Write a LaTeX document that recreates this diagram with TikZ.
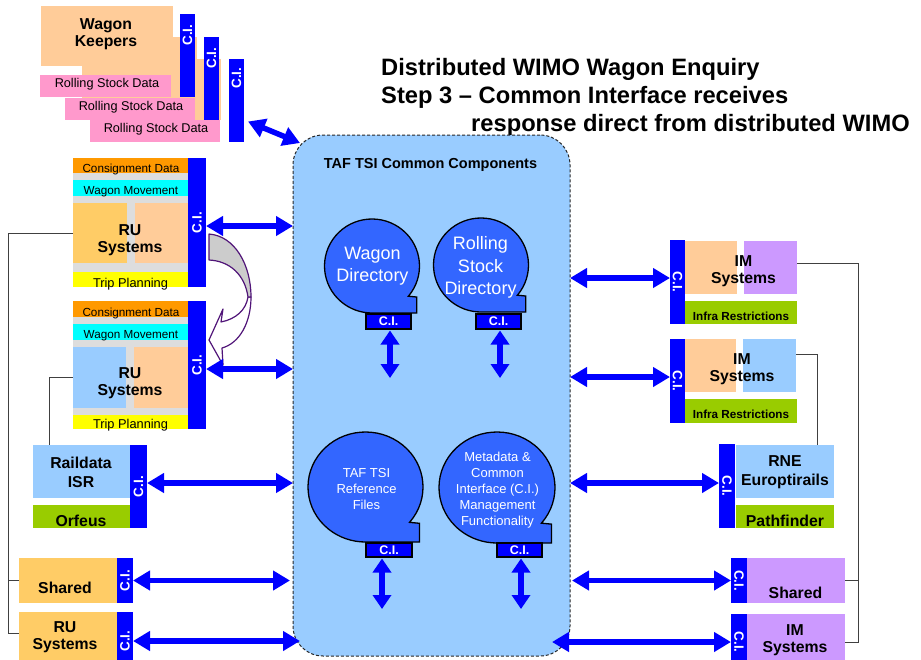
\documentclass[tikz,border=0pt]{standalone}
\usepackage{fontspec}
\setmainfont{Liberation Sans}
\usepackage{graphicx}
\usetikzlibrary{arrows.meta}

\definecolor{ciblue}{RGB}{0,0,255}
\definecolor{tafblue}{RGB}{153,204,255}
\definecolor{bubblue}{RGB}{51,102,255}
\definecolor{peach}{RGB}{255,204,153}
\definecolor{gold}{RGB}{255,204,102}
\definecolor{consorange}{RGB}{255,153,0}
\definecolor{wmcyan}{RGB}{0,255,255}
\definecolor{tripyellow}{RGB}{255,255,0}
\definecolor{rspink}{RGB}{255,153,204}
\definecolor{infragreen}{RGB}{153,204,0}
\definecolor{imviolet}{RGB}{204,153,255}
\definecolor{rugray}{RGB}{221,221,221}
\definecolor{arcline}{RGB}{80,20,120}

\newcommand{\fz}[2]{\fontsize{#1}{#2}\selectfont}

% 目录气泡：圆 + 右下角方尾
\newcommand{\dirbubble}[4]{%
  \draw[bubble] ({#1+#3*cos(40)},{#2+#4*sin(40)})
    arc[start angle=40, end angle=-270, x radius=#3, y radius=#4]
    -- ({#1+0.94*#3},{#2+#4}) -- ({#1+0.94*#3},{#2+0.66*#4}) -- cycle;}

\tikzset{
  box/.style={anchor=north west, inner sep=0pt, outer sep=0pt},
  cibar/.style={box, fill=ciblue, text=white, font=\fz{13.5}{14}\bfseries},
  citxt/.style={inner sep=0pt, text=white, font=\fz{13.5}{14}\bfseries},
  cibox/.style={box, draw=black, line width=1.3pt, fill=ciblue, text=white,
    minimum width=45pt, minimum height=15pt, font=\fz{12.5}{13}\bfseries},
  taf/.style={box, minimum width=277pt, minimum height=521pt, rounded corners=30pt,
    fill=tafblue, draw=black!85, line width=1pt, dash pattern=on 3pt off 2pt},
  bubble/.style={draw=black, line width=1.3pt, fill=bubblue},
  ttl/.style={anchor=base west, inner sep=0pt, font=\fz{23.7}{28}\bfseries},
  hd/.style={inner sep=0pt, font=\fz{14.5}{17}\bfseries},
  big/.style={inner sep=0pt, align=center, font=\fz{15.8}{17}\bfseries},
  sml/.style={inner sep=0pt, font=\fz{11.7}{13}},
  rsd/.style={inner sep=0pt, font=\fz{12.7}{14}},
  trip/.style={inner sep=0pt, font=\fz{12.8}{14}},
  infra/.style={inner sep=0pt, font=\fz{11.7}{13}\bfseries},
  bubbig/.style={inner sep=0pt, align=center, text=white, font=\fz{18}{22.5}},
  bubsml/.style={inner sep=0pt, align=center, text=white, font=\fz{13}{16}},
  dbl/.style={draw=ciblue, line width=5.5pt,
    {Triangle[length=17pt,width=19pt]}-{Triangle[length=17pt,width=19pt]}},
  vdbl/.style={draw=ciblue, line width=6.5pt, shorten <=1.5pt,
    {Triangle[length=14pt,width=18pt]}-{Triangle[length=14pt,width=18pt]}},
  link/.style={draw=black!75, line width=0.9pt},
  curv/.style={draw=arcline, line width=1.2pt, line join=round},
}

\begin{document}
\begin{tikzpicture}[x=1pt, y=-1pt]
  \useasboundingbox (0,0) rectangle (921,659);

  % 标题
  \node[ttl] (t1) at (381,75) {Distributed WIMO Wagon Enquiry};
  \node[ttl] (t2) at (381,103) {Step 3 – Common Interface receives};
  \node[ttl] (t3) at (471,131) {response direct from distributed WIMO};

  % 左上 Wagon Keepers（叠放三层）
  \fill[peach] (110,59) rectangle (221,120);
  \fill[peach] (82,37) rectangle (197,98);
  \node[box, fill=peach, minimum width=132pt, minimum height=60pt] (wk) at (41,6) {};
  \node[big] (wkt) at (106,34) {Wagon\\Keepers};
  \node[box, fill=rspink, minimum width=131pt, minimum height=22pt] (rs1) at (40,75) {};
  \node[box, fill=rspink, minimum width=130pt, minimum height=22pt] (rs2) at (65,98) {};
  \node[box, fill=rspink, minimum width=130pt, minimum height=22pt] (rs3) at (90,120) {};
  \node[rsd] (rs1t) at (107,84) {Rolling Stock Data};
  \node[rsd] (rs2t) at (131,107) {Rolling Stock Data};
  \node[rsd] (rs3t) at (156,129) {Rolling Stock Data};
  \node[cibar, minimum width=15pt, minimum height=83pt] (ciwk1) at (180,14) {};
  \node[cibar, minimum width=15pt, minimum height=83pt] (ciwk2) at (204,37) {};
  \node[cibar, minimum width=15pt, minimum height=83pt] (ciwk3) at (229,59) {};
  \node[citxt] (ciwk1t) at (187.5,35) {\rotatebox{90}{C.I.}};
  \node[citxt] (ciwk2t) at (211.5,58) {\rotatebox{90}{C.I.}};
  \node[citxt] (ciwk3t) at (236.5,78) {\rotatebox{90}{C.I.}};

  % 中间 TAF TSI 公共组件
  \node[taf] (taf) at (293,135) {};
  \node[hd] (tafhd) at (430.5,164.5) {TAF TSI Common Components};

  \dirbubble{372}{266}{47.5}{47}
  \dirbubble{481}{265}{47.5}{47}
  \dirbubble{365.5}{487}{57.5}{55}
  \dirbubble{497}{487.5}{58}{55.5}
  \node[bubbig] (wd) at (372.5,266) {Wagon\\Directory};
  \node[bubbig] (rsd) at (480.5,267.5) {Rolling\\Stock\\Directory};
  \node[bubsml] (ref) at (366.5,489) {TAF TSI\\Reference\\Files};
  \node[bubsml] (meta) at (497.5,490) {Metadata \&\\Common\\Interface (C.I.)\\Management\\Functionality};
  \node[cibox] (ciwd) at (366,314) {C.I.};
  \node[cibox] (cirsd) at (476,314) {C.I.};
  \node[cibox, minimum width=46pt, minimum height=14pt] (ciref) at (366,543) {C.I.};
  \node[cibox, minimum height=14pt] (cimeta) at (497,543) {C.I.};
  \coordinate (wdend) at (390,378);
  \coordinate (rsdend) at (500,378);
  \coordinate (refend) at (382,609);
  \coordinate (metaend) at (521,609);
  \draw[vdbl] (ciwd.south -| wdend) -- (wdend);
  \draw[vdbl] (cirsd.south -| rsdend) -- (rsdend);
  \draw[vdbl] (ciref.south -| refend) -- (refend);
  \draw[vdbl] (cimeta.south -| metaend) -- (metaend);

  % 左侧 RU Systems（上）
  \node[box, fill=rugray, minimum width=115pt, minimum height=129pt] (ru1bg) at (73,158) {};
  \node[box, fill=consorange, minimum width=115pt, minimum height=15pt] (cd1) at (73,158) {};
  \node[box, fill=wmcyan, minimum width=115pt, minimum height=16pt] (wm1) at (73,180) {};
  \node[box, fill=gold, minimum width=54pt, minimum height=60pt] (ru1a) at (73,203) {};
  \node[box, fill=peach, minimum width=53pt, minimum height=60pt] (ru1b) at (135,203) {};
  \node[box, fill=tripyellow, minimum width=115pt, minimum height=15pt] (tp1) at (73,272) {};
  \node[sml] (cd1t) at (131,169.5) {Consignment Data};
  \node[sml] (wm1t) at (131,191.5) {Wagon Movement};
  \node[big] (ru1t) at (130,240) {RU\\Systems};
  \node[trip] (tp1t) at (130.5,284) {Trip Planning};
  \node[cibar, minimum width=18pt, minimum height=129pt] (ci1) at (188,158) {\rotatebox{90}{C.I.}};

  % 左侧 RU Systems（下）
  \node[box, fill=rugray, minimum width=115pt, minimum height=128pt] (ru2bg) at (73,301) {};
  \node[box, fill=consorange, minimum width=115pt, minimum height=16pt] (cd2) at (73,301) {};
  \node[box, fill=wmcyan, minimum width=115pt, minimum height=16pt] (wm2) at (73,324) {};
  \node[box, fill=tafblue, minimum width=53pt, minimum height=61pt] (ru2a) at (73,347) {};
  \node[box, fill=peach, minimum width=54pt, minimum height=61pt] (ru2b) at (134,347) {};
  \node[box, fill=tripyellow, minimum width=115pt, minimum height=14pt] (tp2) at (73,415) {};
  \node[sml] (cd2t) at (131,313) {Consignment Data};
  \node[sml] (wm2t) at (131,335.5) {Wagon Movement};
  \node[big] (ru2t) at (130,383) {RU\\Systems};
  \node[trip] (tp2t) at (130.5,425) {Trip Planning};
  \node[cibar, minimum width=18pt, minimum height=128pt] (ci2) at (188,301) {\rotatebox{90}{C.I.}};

  % 弯箭头
  \draw[curv, fill=white] (251,297) .. controls (251,322) and (240,343) .. (222,348)
    -- (223,365) -- (209,340) -- (223,309) -- (221,322)
    .. controls (236,319) and (246,310) .. (248,297) -- cycle;
  \draw[curv, fill=black!20] (209,234) .. controls (235,236) and (251,265) .. (251,297)
    -- (248,297) .. controls (245,275) and (230,261) .. (209,260) -- cycle;

  % Raildata ISR
  \node[box, fill=tafblue, minimum width=97pt, minimum height=53pt] (rd) at (33,445) {};
  \node[box, fill=infragreen, minimum width=97pt, minimum height=23pt] (orf) at (33,505) {};
  \node[big, font=\fz{15.8}{19}\bfseries] (rdt) at (81,472) {Raildata\\ISR};
  \node[big] (orft) at (81,521) {Orfeus};
  \node[cibar, minimum width=17pt, minimum height=83pt] (cird) at (130,445) {\rotatebox{90}{C.I.}};

  % 左下 Shared / RU Systems
  \node[box, fill=gold, minimum width=98pt, minimum height=45pt] (shl) at (19,558) {};
  \node[box, fill=gold, minimum width=98pt, minimum height=58pt] (rul) at (19,612) {};
  \node[big] (shlt) at (65,587.5) {Shared};
  \node[big] (rult) at (65,637) {RU\\Systems};
  \node[cibar, minimum width=16pt, minimum height=45pt] (cishl) at (117,558) {\rotatebox{90}{C.I.}};
  \node[cibar, minimum width=16pt, minimum height=58pt] (cirul) at (117,612) {\rotatebox{90}{C.I.}};

  % 右侧 IM Systems
  \node[cibar, minimum width=15pt, minimum height=84pt] (ciim1) at (670,240) {\rotatebox{-90}{C.I.}};
  \node[box, fill=peach, minimum width=52pt, minimum height=53pt] (im1a) at (685,241) {};
  \node[box, fill=imviolet, minimum width=53pt, minimum height=53pt] (im1b) at (744,241) {};
  \node[box, fill=infragreen, minimum width=112pt, minimum height=23pt] (inf1) at (685,301) {};
  \node[big] (im1t) at (743.5,271.5) {IM\\Systems};
  \node[infra] (inf1t) at (741,316) {Infra Restrictions};

  \node[cibar, minimum width=15pt, minimum height=84pt] (ciim2) at (670,339) {\rotatebox{-90}{C.I.}};
  \node[box, fill=peach, minimum width=51pt, minimum height=53pt] (im2a) at (685,339) {};
  \node[box, fill=tafblue, minimum width=53pt, minimum height=53pt] (im2b) at (743,339) {};
  \node[box, fill=infragreen, minimum width=112pt, minimum height=24pt] (inf2) at (685,399) {};
  \node[big] (im2t) at (742,369.5) {IM\\Systems};
  \node[infra] (inf2t) at (741,414) {Infra Restrictions};

  % RNE Europtirails
  \node[cibar, minimum width=16pt, minimum height=84pt] (cirne) at (719,444) {\rotatebox{-90}{C.I.}};
  \node[box, fill=tafblue, minimum width=98pt, minimum height=53pt] (rne) at (736,445) {};
  \node[box, fill=infragreen, minimum width=98pt, minimum height=23pt] (pf) at (736,505) {};
  \node[big, font=\fz{15.8}{19}\bfseries] (rnet) at (785,472.5) {RNE\\Europtirails};
  \node[big] (pft) at (785,521) {Pathfinder};

  % 右下 Shared / IM Systems
  \node[cibar, minimum width=16pt, minimum height=45pt] (cishr) at (731,558) {\rotatebox{-90}{C.I.}};
  \node[box, fill=imviolet, minimum width=98pt, minimum height=45pt] (shr) at (747,558) {};
  \node[cibar, minimum width=16pt, minimum height=56pt] (ciimr) at (731,614) {\rotatebox{-90}{C.I.}};
  \node[box, fill=imviolet, minimum width=98pt, minimum height=56pt] (imr) at (747,614) {};
  \node[big] (shrt) at (795.5,592.5) {Shared};
  \node[big] (imrt) at (795,640) {IM\\Systems};

  % 连线
  \draw[link] (ru1a.west) -- ++(-65,0) |- ([yshift=8pt]rul.west);
  \draw[link] (shl.west) -- ++(-11,0);
  \draw[link] (ru2a.west) -| ([xshift=16pt]rd.north west);
  \draw[link] ([yshift=4.5pt]im1b.east) -- ++(61,0) |- (imr.east);
  \draw[link] (shr.east) -- ++(13,0);
  \draw[link] ([yshift=11.5pt]im2b.east) -| ([xshift=81pt]rne.north west);

  % 双向箭头
  \draw[dbl] ([xshift=4pt,yshift=-21pt]ciwk3.east) -- ([xshift=7pt,yshift=-8pt]taf.north west);
  \draw[dbl] ([yshift=-3.5pt]ci1.east) -- ([yshift=-3.5pt]ci1.east -| taf.west);
  \draw[dbl] ([yshift=-4pt]ci2.east) -- ([yshift=-4pt]ci2.east -| taf.west);
  \draw[dbl] ([yshift=3.5pt]cird.east) -- ([yshift=3.5pt]cird.east -| taf.west);
  \draw[dbl] (cishl.east) -- ([xshift=-3pt]cishl.east -| taf.west);
  \draw[dbl] (cirul.east) -- ([xshift=7pt]cirul.east -| taf.west);
  \draw[dbl] ([yshift=4pt]taf.east |- ciim1.west) -- ([yshift=4pt]ciim1.west);
  \draw[dbl] ([yshift=4pt]taf.east |- ciim2.west) -- ([yshift=4pt]ciim2.west);
  \draw[dbl] ([yshift=3pt]taf.east |- cirne.west) -- ([yshift=3pt]cirne.west);
  \draw[dbl] ([xshift=2pt]taf.east |- cishr.west) -- (cishr.west);
  \draw[dbl] ([xshift=-18pt]taf.east |- ciimr.west) -- (ciimr.west);
\end{tikzpicture}
\end{document}
